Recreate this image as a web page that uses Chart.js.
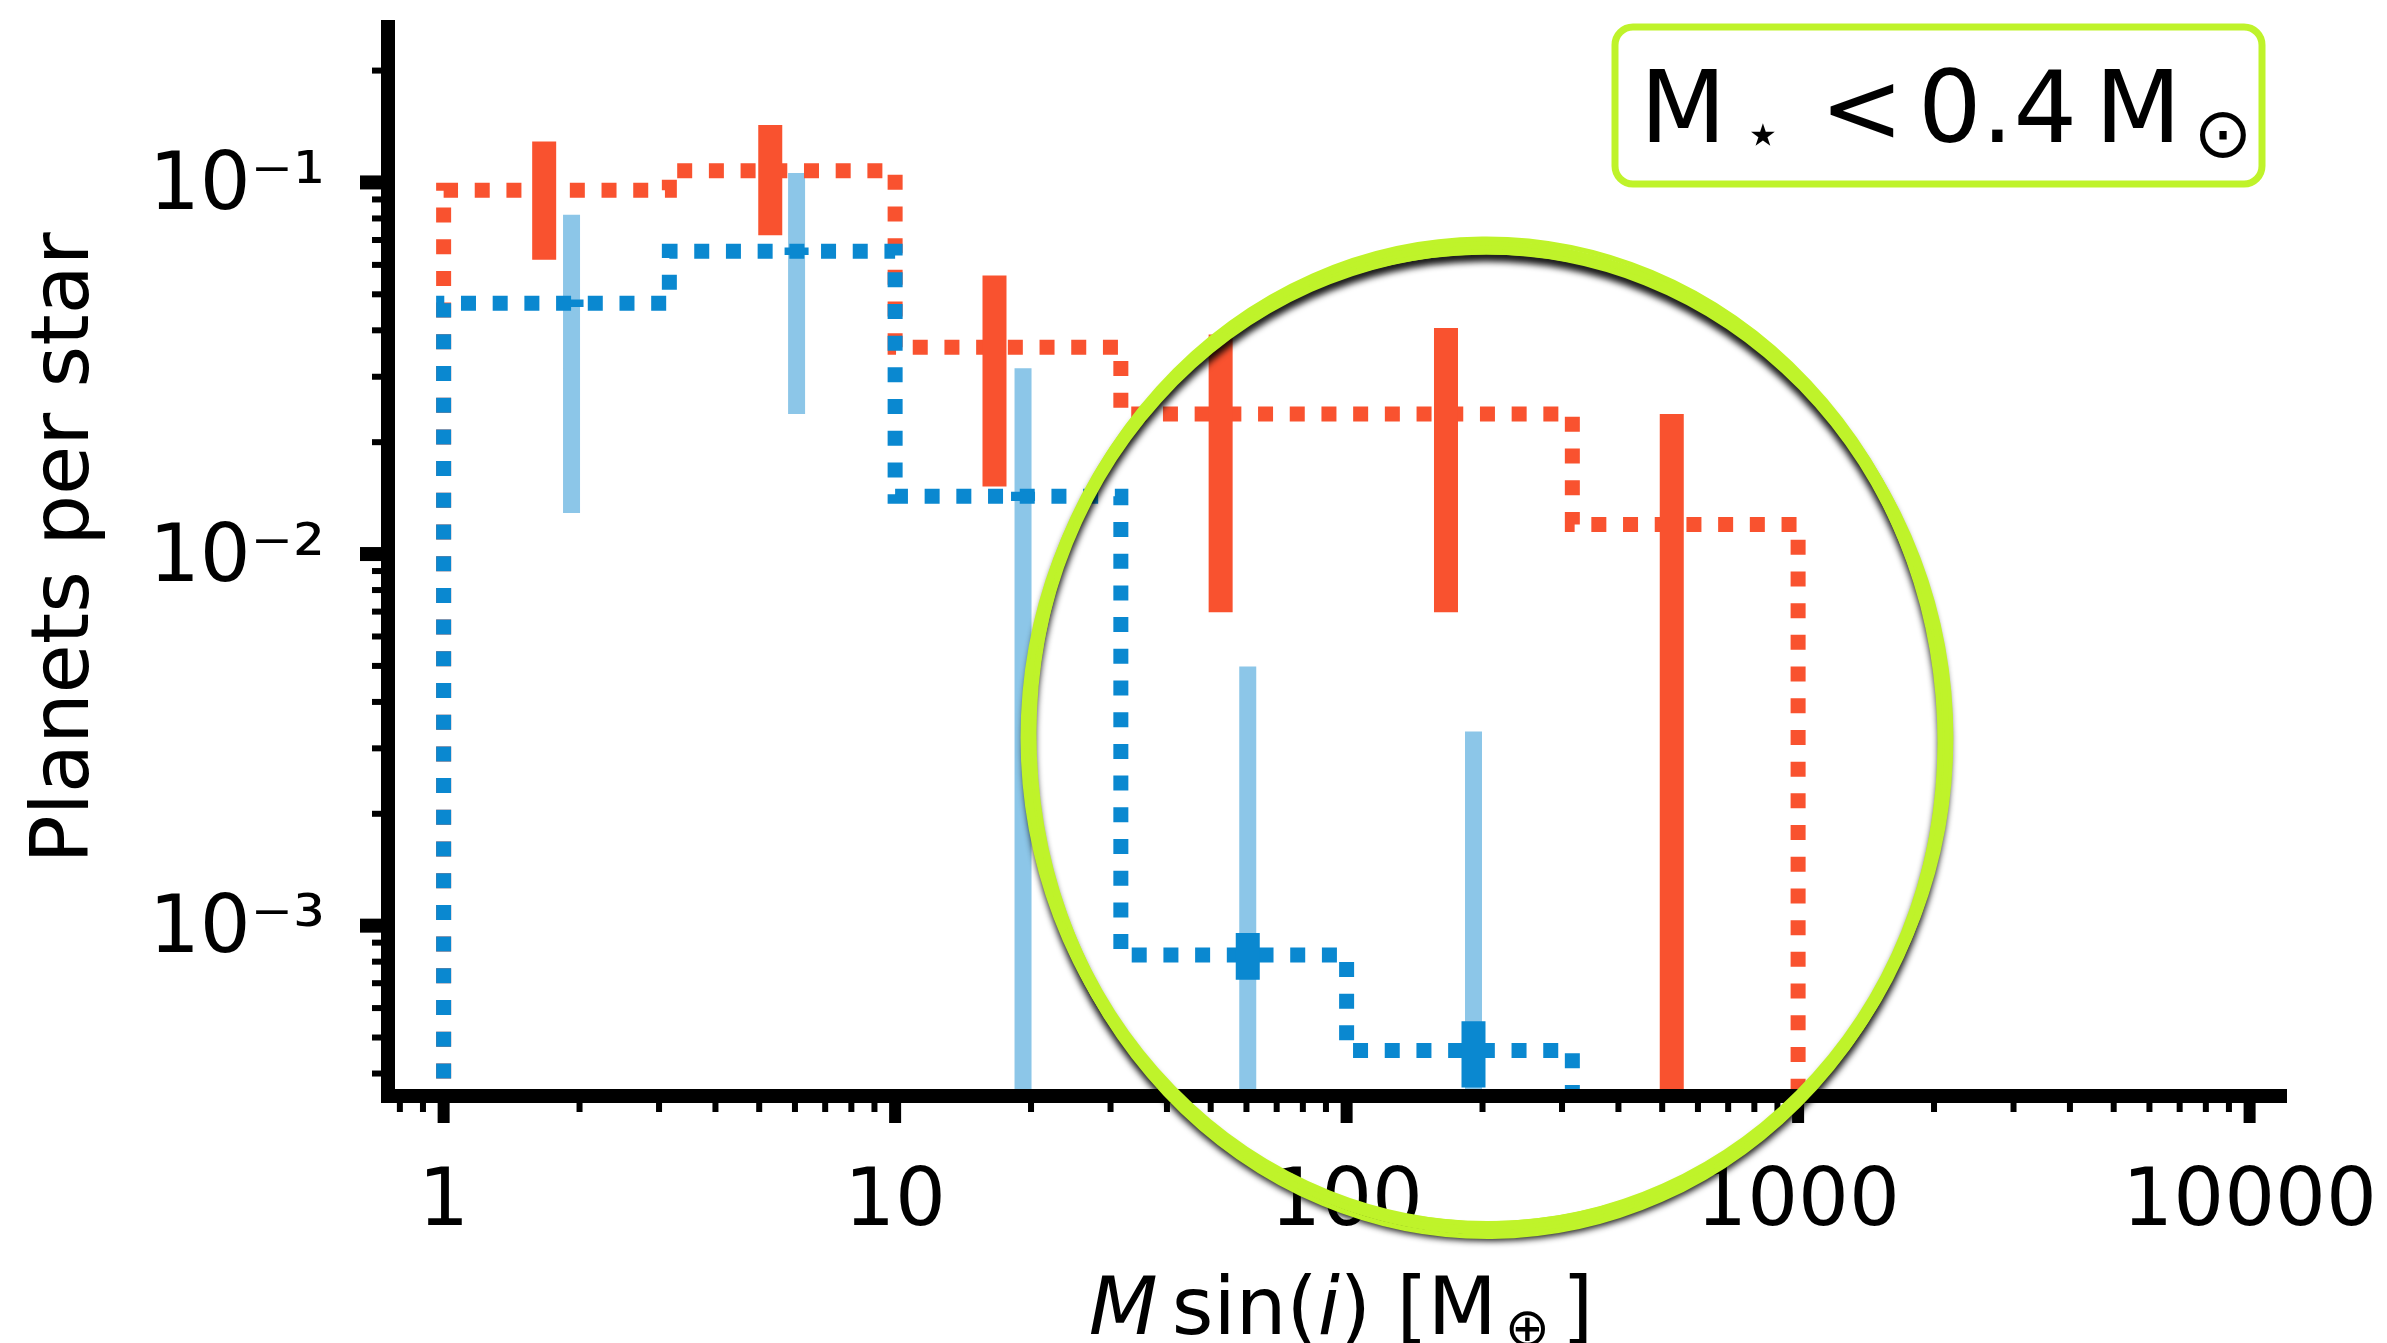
<!DOCTYPE html>
<html>
<head>
<meta charset="utf-8">
<script src="https://cdn.jsdelivr.net/npm/chart.js@4.4.1/dist/chart.umd.min.js"></script>
<style>
  html, body { margin: 0; padding: 0; background: #fff; }
  #wrap { width: 2387px; height: 1343px; }
</style>
</head>
<body>
<div id="wrap"><canvas id="massChart" width="2387" height="1343"></canvas></div>
<script>
// bin edges of the mass histogram, M sin(i) in Earth masses
const binEdges = [1, 3.162, 10, 31.62, 100, 316.2, 1000];

// planets per star in each bin
const rateRed = [0.0953, 0.1075, 0.036, 0.0238, 0.0238, 0.012];
const rateBlue = [0.0473, 0.0653, 0.0143, 0.000834, 0.000461, 0];

// red error bars (0 = runs off the bottom of the plot)
const redBarX = [1.67, 5.29, 16.6, 52.6, 166, 525];
const redBarLo = [0.0619, 0.0721, 0.0152, 0.00697, 0.00697, 0];
const redBarHi = [0.1288, 0.1428, 0.0562, 0.039, 0.0406, 0.0238];

// blue error bars: wide light ones and short dark ones
const blueBarX = [1.92, 6.05, 19.2, 60.4, 191];
const blueBarLo = [0.0129, 0.0238, 0, 0, 0];
const blueBarHi = [0.0818, 0.106, 0.0316, 0.00498, 0.00333];
const blueCoreLo = [0.0462, 0.0638, 0.0139, 0.000715, 0.000367];
const blueCoreHi = [0.0484, 0.0668, 0.0147, 0.000955, 0.000553];

// axes
const xMin = 0.753, xMax = 12040;
const yMin = 3.48e-4, yMax = 0.262;
const xTickLabels = ['1', '10', '100', '1000', '10000'];   // 10^0 .. 10^4
const yTickLabels = ['10\u207B\u00B3', '10\u207B\u00B2', '10\u207B\u00B9']; // 10^-3 .. 10^-1

// highlight ellipse, given in data units (left/right, top/bottom)
const ellipseX = [19.8, 2114];
const ellipseY = [0.0666, 0.000154];

const FONT = 'DejaVu Sans';
const RED = '#f9522f';
const BLUE = '#0a88d0';
const LIGHT_BLUE = '#8cc6e8';
const LIME = '#bff32a';
const FLOOR = yMin / 100;   // stands in for zero on the log axis

// histogram outline for stepped line
function stepPoints(values) {
  const pts = [{ x: binEdges[0], y: FLOOR }];
  values.forEach((v, i) => pts.push({ x: binEdges[i], y: v > 0 ? v : FLOOR }));
  pts.push({ x: binEdges[binEdges.length - 1], y: FLOOR });
  return pts;
}

// vertical bars separated by gaps
function barPoints(xs, lo, hi) {
  const pts = [];
  xs.forEach((x, i) => {
    pts.push({ x: x, y: lo[i] > 0 ? lo[i] : FLOOR });
    pts.push({ x: x, y: hi[i] });
    pts.push({ x: x, y: null });
  });
  return pts;
}

function logTicks(min, max) {
  const out = [];
  for (let e = Math.floor(Math.log10(min)); e <= Math.ceil(Math.log10(max)); e++) {
    for (let k = 1; k <= 9; k++) {
      const v = k * Math.pow(10, e);
      if (v >= min && v <= max) out.push({ value: v, major: k === 1 });
    }
  }
  return out;
}

function exponentOf(value) {
  const e = Math.round(Math.log10(value));
  return Math.abs(Math.log10(value) - e) < 1e-6 ? e : null;
}

const datasets = [
  {
    label: 'blue core',
    data: barPoints(blueBarX, blueCoreLo, blueCoreHi),
    borderColor: BLUE, borderWidth: 24, borderCapStyle: 'butt',
    order: 0
  },
  {
    label: 'red bars',
    data: barPoints(redBarX, redBarLo, redBarHi),
    borderColor: RED, borderWidth: 24, borderCapStyle: 'butt',
    order: 1
  },
  {
    label: 'blue histogram',
    data: stepPoints(rateBlue),
    borderColor: BLUE, borderWidth: 15, borderDash: [15, 16.7], borderCapStyle: 'butt',
    borderJoinStyle: 'miter', stepped: 'before',
    order: 2
  },
  {
    label: 'red histogram',
    data: stepPoints(rateRed),
    borderColor: RED, borderWidth: 15, borderDash: [15, 16.7], borderCapStyle: 'butt',
    borderJoinStyle: 'miter', stepped: 'before',
    order: 3
  },
  {
    label: 'blue bars',
    data: barPoints(blueBarX, blueBarLo, blueBarHi),
    borderColor: LIGHT_BLUE, borderWidth: 17, borderCapStyle: 'butt',
    order: 4
  }
];
datasets.forEach(d => {
  d.showLine = true;
  d.pointRadius = 0;
  d.pointHoverRadius = 0;
  d.tension = 0;
  d.fill = false;
});

// tick marks, axis titles, box label and the highlight ellipse
const overlay = {
  id: 'overlay',
  afterDraw(chart) {
    const c = chart.ctx;
    const xs = chart.scales.x, ys = chart.scales.y;
    const area = chart.chartArea;
    c.save();

    // tick marks
    c.fillStyle = '#000';
    xs.ticks.forEach(t => {
      const px = xs.getPixelForValue(t.value);
      const w = t.major ? 12 : 6, len = t.major ? 27 : 16;
      c.fillRect(px - w / 2, area.bottom, w, len);
    });
    ys.ticks.forEach(t => {
      const py = ys.getPixelForValue(t.value);
      const w = t.major ? 14 : 6, len = t.major ? 28 : 16;
      c.fillRect(area.left - len, py - w / 2, len, w);
    });

    // y title
    c.save();
    c.translate(88, 548);
    c.rotate(-Math.PI / 2);
    c.font = '80px "' + FONT + '"';
    c.textAlign = 'center';
    c.textBaseline = 'alphabetic';
    c.fillText('Planets per star', 0, 0);
    c.restore();

    // x title: M sin(i) [M⊕]
    const parts = [
      { t: 'M', f: 'italic 80px' },
      { gap: 14 },
      { t: 'sin(', f: '80px' },
      { t: 'i', f: 'italic 80px' },
      { t: ') [M', f: '80px' },
      { gap: 8 },
      { t: '\u2295', f: '54px', dy: 12 },
      { gap: 12 },
      { t: ']', f: '80px' }
    ];
    let total = 0;
    parts.forEach(p => {
      if (p.gap) { total += p.gap; return; }
      c.font = p.f + ' "' + FONT + '"';
      p.w = c.measureText(p.t).width;
      total += p.w;
    });
    let tx = (area.left + area.right) / 2 - total / 2 + 4;
    c.textAlign = 'left';
    c.textBaseline = 'alphabetic';
    parts.forEach(p => {
      if (p.gap) { tx += p.gap; return; }
      c.font = p.f + ' "' + FONT + '"';
      c.fillText(p.t, tx, 1334 + (p.dy || 0));
      tx += p.w;
    });

    // highlight ellipse
    const ex0 = xs.getPixelForValue(ellipseX[0]), ex1 = xs.getPixelForValue(ellipseX[1]);
    const ey0 = ys.getPixelForValue(ellipseY[0]), ey1 = ys.getPixelForValue(ellipseY[1]);
    const cx = (ex0 + ex1) / 2, cy = (ey0 + ey1) / 2;
    const rx = (ex1 - ex0) / 2, ry = (ey1 - ey0) / 2;
    c.save();
    c.shadowColor = 'rgba(0,0,0,0.9)';
    c.shadowBlur = 6;
    c.shadowOffsetY = 7;
    c.strokeStyle = LIME;
    c.lineWidth = 13;
    c.beginPath();
    c.ellipse(cx, cy, rx, ry, -0.02, 0, 2 * Math.PI);
    c.stroke();
    c.restore();
    c.strokeStyle = LIME;
    c.lineWidth = 5;
    [[6, -4, 0.0], [-5, 5, -0.04], [2, 9, -0.01]].forEach(([drx, dry, rot]) => {
      c.beginPath();
      c.ellipse(cx, cy, rx + drx, ry + dry, rot, 0, 2 * Math.PI);
      c.stroke();
    });

    // label box
    const bw = 647, bh = 157;
    const bx = area.right - 24 - bw, by = area.top;
    c.strokeStyle = LIME;
    c.lineWidth = 7;
    c.fillStyle = '#fff';
    c.beginPath();
    c.roundRect(bx, by, bw, bh, 18);
    c.fill();
    c.stroke();
    c.fillStyle = '#000';
    c.textAlign = 'left';
    c.font = '100px "' + FONT + '"';
    c.fillText('M', bx + 25, by + 115);
    c.fillText('<', bx + 205, by + 115);
    c.fillText('0.4', bx + 303, by + 115);
    c.fillText('M', bx + 480, by + 115);
    c.textAlign = 'center';
    c.font = '62px "' + FONT + '"';
    c.fillText('\u22C6', bx + 148, by + 128);
    c.font = '70px "' + FONT + '"';
    c.fillText('\u2299', bx + 608, by + 130);

    c.restore();
  }
};

const ctx = document.getElementById('massChart').getContext('2d');
new Chart(ctx, {
  type: 'scatter',
  data: { datasets: datasets },
  options: {
    responsive: false,
    animation: false,
    devicePixelRatio: 1,
    layout: { padding: { top: 27, right: 101, left: 0, bottom: 0 } },
    plugins: {
      legend: { display: false },
      tooltip: { enabled: false }
    },
    scales: {
      x: {
        type: 'logarithmic',
        position: 'bottom',
        bounds: 'data',
        min: xMin,
        max: xMax,
        afterBuildTicks: s => { s.ticks = logTicks(xMin, xMax); },
        afterFit: s => { s.height = 1343 - 1096; s.paddingLeft = 0; s.paddingRight = 0; },
        grid: { display: false, drawTicks: false },
        border: { display: true, color: '#000', width: 14, z: 1 },
        ticks: {
          autoSkip: false,
          maxRotation: 0,
          padding: 60,
          color: '#000',
          font: { family: FONT, size: 80 },
          callback: value => {
            const e = exponentOf(value);
            return e === null ? '' : xTickLabels[e];
          }
        }
      },
      y: {
        type: 'logarithmic',
        position: 'left',
        bounds: 'data',
        min: yMin,
        max: yMax,
        afterBuildTicks: s => { s.ticks = logTicks(yMin, yMax); },
        afterFit: s => { s.width = 388; s.paddingTop = 0; s.paddingBottom = 0; },
        grid: { display: false, drawTicks: false },
        border: { display: true, color: '#000', width: 14, z: 1 },
        ticks: {
          autoSkip: false,
          padding: 63,
          labelOffset: 6,
          color: '#000',
          font: { family: FONT, size: 80 },
          callback: value => {
            const e = exponentOf(value);
            return e === null ? '' : yTickLabels[e + 3];
          }
        }
      }
    }
  },
  plugins: [overlay]
});
</script>
</body>
</html>
